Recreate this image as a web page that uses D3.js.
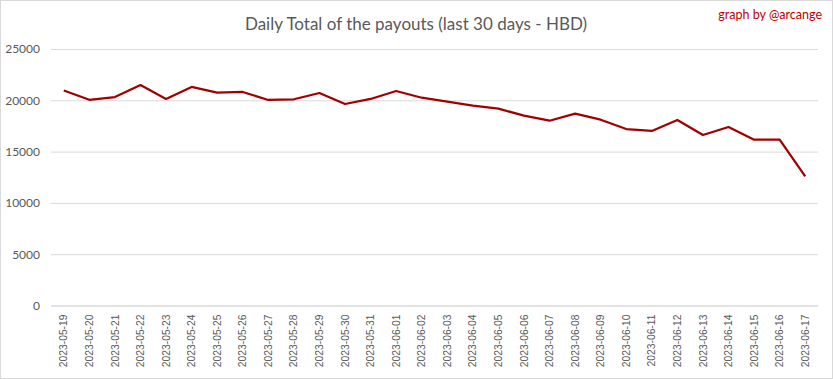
<!DOCTYPE html>
<html lang="en">
<head>
    <meta charset="UTF-8">
    <title>Daily Total of the payouts</title>
    <script src="https://d3js.org/d3.v7.min.js"></script>
    <style>
        body { margin: 0; background: #fff; }
    </style>
</head>
<body>
    <svg width="833" height="379"></svg>

    <script>
        // Data
        const dates = [
            "2023-05-19", "2023-05-20", "2023-05-21", "2023-05-22", "2023-05-23",
            "2023-05-24", "2023-05-25", "2023-05-26", "2023-05-27", "2023-05-28",
            "2023-05-29", "2023-05-30", "2023-05-31", "2023-06-01", "2023-06-02",
            "2023-06-03", "2023-06-04", "2023-06-05", "2023-06-06", "2023-06-07",
            "2023-06-08", "2023-06-09", "2023-06-10", "2023-06-11", "2023-06-12",
            "2023-06-13", "2023-06-14", "2023-06-15", "2023-06-16", "2023-06-17"
        ];
        const payouts = [
            20950, 20050, 20320, 21490, 20130, 21300, 20740, 20810, 20030, 20100,
            20710, 19640, 20130, 20910, 20250, 19870, 19480, 19190, 18500, 18010,
            18700, 18110, 17200, 17010, 18080, 16620, 17400, 16160, 16160, 12590
        ];
        const yTicks = [0, 5000, 10000, 15000, 20000, 25000];

        const svg = d3.select("svg");
        const W = 833, H = 379;
        const plotLeft = 51, plotRight = 818, plotTop = 49, plotBottom = 305.5;

        // outer border
        svg.append("rect")
            .attr("x", 0.5).attr("y", 0.5)
            .attr("width", W - 1).attr("height", H - 1)
            .attr("fill", "#fff")
            .attr("stroke", "#d9d9d9");

        const x = d3.scaleBand().domain(dates).range([plotLeft, plotRight]);
        const y = d3.scaleLinear().domain([0, 25000]).range([plotBottom, plotTop]);

        // gridlines + y labels
        const yAxis = svg.append("g")
            .attr("transform", `translate(${plotLeft},0)`)
            .call(d3.axisLeft(y).tickValues(yTicks).tickFormat(d3.format("d"))
                .tickSize(-(plotRight - plotLeft)).tickPadding(11));
        yAxis.select(".domain").remove();
        yAxis.selectAll(".tick line").attr("stroke", "#d9d9d9");
        yAxis.selectAll(".tick text")
            .attr("fill", "#595959")
            .style("font-family", "Lato, 'Open Sans', sans-serif")
            .style("font-size", "12px");

        // x axis labels
        const xAxis = svg.append("g")
            .attr("transform", `translate(0,${plotBottom})`)
            .call(d3.axisBottom(x).tickSize(0).tickPadding(0));
        xAxis.select(".domain").attr("stroke", "#d9d9d9");
        xAxis.selectAll(".tick text")
            .attr("fill", "#595959")
            .attr("text-anchor", "end")
            .attr("transform", "rotate(-90)")
            .attr("x", -9)
            .attr("y", 0)
            .attr("dy", "0.35em")
            .style("font-family", "'Liberation Sans', Arial, sans-serif")
            .style("font-size", "10.3px");

        // line
        const line = d3.line()
            .x((d, i) => x(dates[i]) + x.bandwidth() / 2)
            .y(d => y(d));
        svg.append("path")
            .datum(payouts)
            .attr("fill", "none")
            .attr("stroke", "#a00000")
            .attr("stroke-width", 2.25)
            .attr("stroke-linejoin", "round")
            .attr("d", line);

        // title
        svg.append("text")
            .attr("x", 416)
            .attr("y", 30)
            .attr("text-anchor", "middle")
            .attr("fill", "#595959")
            .style("font-family", "Lato, 'Open Sans', sans-serif")
            .style("font-size", "17px")
            .text("Daily Total of the payouts (last 30 days - HBD)");

        svg.append("text")
            .attr("x", 822)
            .attr("y", 19)
            .attr("text-anchor", "end")
            .attr("fill", "#c00000")
            .style("font-family", "Lato, 'Open Sans', sans-serif")
            .style("font-size", "12.5px")
            .text("graph by @arcange");
    </script>
</body>
</html>
